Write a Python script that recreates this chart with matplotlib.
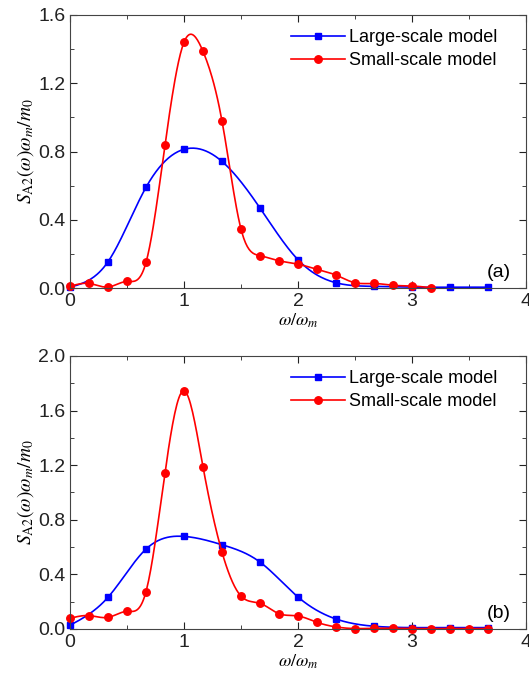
import numpy as np
import matplotlib
matplotlib.use('Agg')
from matplotlib import pyplot as plt
from matplotlib.ticker import MultipleLocator, FormatStrFormatter

plt.rcParams['font.family'] = ['Liberation Sans', 'DejaVu Sans']
plt.rcParams['mathtext.fontset'] = 'stix'

# panel (a)
xa_large = [0, 1/3, 2/3, 1, 4/3, 5/3, 2, 7/3, 8/3, 3, 10/3, 11/3]
ya_large = [0.005, 0.154, 0.59, 0.813, 0.742, 0.469, 0.166, 0.031, 0.01, 0.005, 0.005, 0.005]
xa_small = [0, 1/6, 1/3, 1/2, 2/3, 5/6, 1, 7/6, 4/3, 3/2, 5/3, 11/6, 2, 13/6, 7/3, 5/2, 8/3, 17/6, 3, 19/6]
ya_small = [0.01, 0.027, 0.006, 0.039, 0.15, 0.838, 1.44, 1.387, 0.979, 0.346, 0.19, 0.16, 0.14, 0.11,
            0.076, 0.031, 0.027, 0.016, 0.012, 0.002]

# panel (b)
xb_large = [0, 1/3, 2/3, 1, 4/3, 5/3, 2, 7/3, 8/3, 3, 10/3, 11/3]
yb_large = [0.027, 0.232, 0.585, 0.678, 0.617, 0.49, 0.234, 0.073, 0.02, 0.01, 0.01, 0.01]
xb_small = [0, 1/6, 1/3, 1/2, 2/3, 5/6, 1, 7/6, 4/3, 3/2, 5/3, 11/6, 2, 13/6, 7/3, 5/2, 8/3, 17/6, 3,
            19/6, 10/3, 7/2, 11/3]
yb_small = [0.078, 0.098, 0.085, 0.129, 0.273, 1.144, 1.744, 1.188, 0.563, 0.241, 0.188, 0.112, 0.095,
            0.049, 0.015, 0.003, 0.005, 0.005, 0.003, 0.003, 0.003, 0.003, 0.003]


def spline(x, y, n=400):
    '''spline cubica natural, so com numpy'''
    x = np.asarray(x, float)
    y = np.asarray(y, float)
    m = len(x)
    h = np.diff(x)
    A = np.zeros((m, m))
    r = np.zeros(m)
    A[0, 0] = 1
    A[-1, -1] = 1
    for i in range(1, m - 1):
        A[i, i - 1] = h[i - 1]
        A[i, i] = 2 * (h[i - 1] + h[i])
        A[i, i + 1] = h[i]
        r[i] = 6 * ((y[i + 1] - y[i]) / h[i] - (y[i] - y[i - 1]) / h[i - 1])
    M = np.linalg.solve(A, r)
    xs = np.linspace(x[0], x[-1], n)
    k = np.clip(np.searchsorted(x, xs) - 1, 0, m - 2)
    t1 = x[k + 1] - xs
    t2 = xs - x[k]
    hk = h[k]
    ys = (M[k] * t1 ** 3 + M[k + 1] * t2 ** 3) / (6 * hk) \
        + (y[k] / hk - M[k] * hk / 6) * t1 + (y[k + 1] / hk - M[k + 1] * hk / 6) * t2
    return xs, ys


def painel(ax, xl, yl, xs, ys, ymax, letra):
    sx, sy = spline(xl, yl)
    ax.plot(sx, sy, color='#0000ff', lw=1.2)
    ax.plot(xl, yl, 's', color='#0000ff', ms=4.6, clip_on=False)
    sx, sy = spline(xs, ys)
    ax.plot(sx, sy, color='#ff0000', lw=1.2)
    ax.plot(xs, ys, 'o', color='#ff0000', ms=5.4, clip_on=False)
    # entradas da legenda
    ax.plot([], [], '-s', color='#0000ff', ms=4.6, lw=1.2, label='Large-scale model')
    ax.plot([], [], '-o', color='#ff0000', ms=5.4, lw=1.2, label='Small-scale model')
    ax.set_xlim(0, 4)
    ax.set_ylim(0, ymax)
    ax.xaxis.set_major_locator(MultipleLocator(1))
    ax.xaxis.set_minor_locator(MultipleLocator(0.5))
    ax.yaxis.set_major_locator(MultipleLocator(0.4))
    ax.yaxis.set_minor_locator(MultipleLocator(0.2))
    ax.yaxis.set_major_formatter(FormatStrFormatter('%.1f'))
    ax.tick_params(which='both', direction='in', top=True, right=True, labelsize=14, colors='#222222')
    ax.tick_params(which='major', length=5)
    ax.tick_params(which='minor', length=3)
    for s in ax.spines.values():
        s.set_color('#444444')
    ax.set_xlabel(r'$\omega/\omega_m$', fontsize=13, labelpad=1)
    ax.set_ylabel(r'$S_{\mathrm{A2}}(\omega)\omega_m/m_0$', fontsize=14, labelpad=1)
    handles, labels = ax.get_legend_handles_labels()
    ax.legend(handles[-2:], labels[-2:], loc='upper right', bbox_to_anchor=(0.965, 0.995),
              frameon=False, fontsize=13, handlelength=3.0, handletextpad=0.2,
              borderaxespad=0.3, labelspacing=0.35)
    ax.text(0.94, 0.058, letra, transform=ax.transAxes, fontsize=14, ha='center', va='center')


fig = plt.figure(figsize=(5.29, 6.81), dpi=100)
ax1 = fig.add_axes([0.1323, 0.577, 0.862, 0.401])
ax2 = fig.add_axes([0.1323, 0.0764, 0.862, 0.401])
painel(ax1, xa_large, ya_large, xa_small, ya_small, 1.6, '(a)')
painel(ax2, xb_large, yb_large, xb_small, yb_small, 2.0, '(b)')
fig.savefig('out.png', dpi=100)
